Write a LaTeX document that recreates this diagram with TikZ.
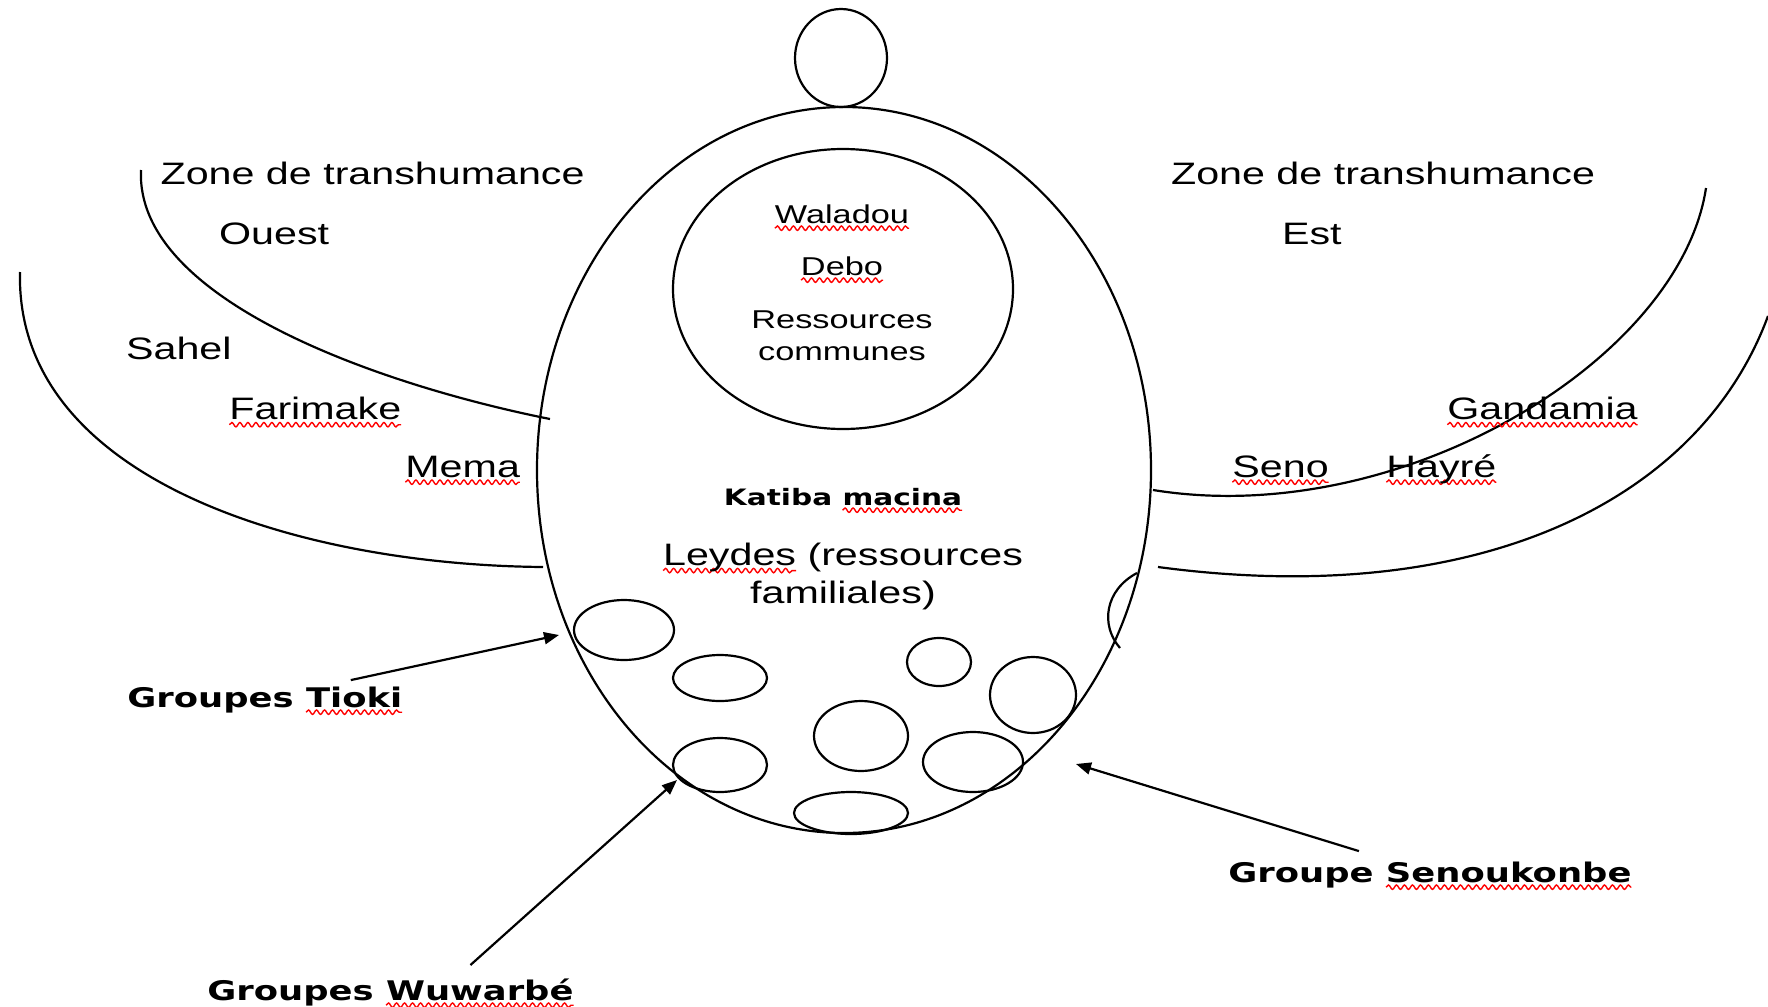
\documentclass[tikz,border=0pt]{standalone}
\usepackage{fontspec}
\setmainfont{Liberation Sans}[FakeStretch=1.33]
\newfontfamily\grpfont{DejaVu Sans}[FakeStretch=1.31]
\usetikzlibrary{arrows.meta,calc,decorations.pathmorphing}

% red spell-check wave under a word
\newsavebox\sqbox
\newlength\sqlen
\newcommand\sqw[1]{\sbox\sqbox{#1}\setlength\sqlen{\wd\sqbox}\leavevmode\rlap{\tikz[reset cm,x=1pt,y=1pt,baseline=0pt]{\useasboundingbox (0,0); \draw[overlay,red,line width=0.7pt,decorate,decoration={snake,amplitude=1.1pt,segment length=4pt}] (0pt,-2.6pt) -- (\sqlen,-2.6pt);}}\usebox\sqbox}

\tikzset{every picture/.style={line width=1.1pt}}
\tikzset{
  txt/.style={anchor=base west, inner sep=0.75pt, font=\fontsize{15.5}{17.5}\selectfont},
  inner/.style={inner sep=0.75pt, font=\fontsize{12.9}{16}\selectfont, align=center},
  grp/.style={anchor=base west, inner sep=3pt, font=\grpfont\bfseries\fontsize{13.5}{16}\selectfont},
  arr/.style={-{Triangle[length=7.5pt,width=6pt]}}
}

\begin{document}
\begin{tikzpicture}[x=0.5pt,y=0.5pt,yscale=-1,xscale=1]
\useasboundingbox (0,0) rectangle (1768,1007);

%Shape: Ellipse [head]
\draw (841,58) ellipse [x radius=46, y radius=49];
%Shape: Ellipse [body]
\draw (844,470) ellipse [x radius=307, y radius=363];
%Shape: Ellipse [ressources communes]
\draw (843,289) ellipse [x radius=170, y radius=140];

%Shape: Ellipse [familles]
\draw (624,630) ellipse [x radius=50, y radius=30];
\draw (720,678) ellipse [x radius=47, y radius=23];
\draw (720,765) ellipse [x radius=47, y radius=27];
\draw (851,813) ellipse [x radius=57, y radius=21];
\draw (861,736) ellipse [x radius=47, y radius=35];
\draw (939,662) ellipse [x radius=32, y radius=24];
\draw (1033,695) ellipse [x radius=43, y radius=38];
\draw (973,762) ellipse [x radius=50, y radius=30];

%Curve Lines [zone ouest]
\draw (141,170) .. controls (135,300) and (380,385) .. (550,419);
\draw (20,272) .. controls (15,480) and (300,565) .. (543,567);
%Curve Lines [zone est]
\draw (1706,188) .. controls (1680,360) and (1400,530) .. (1153,490);
\draw (1768,316) .. controls (1700,500) and (1480,610) .. (1158,567);
%Curve Lines [small arc]
\draw (1137,573) .. controls (1105,590) and (1100,625) .. (1120,648);

% Text Node
\draw (158,184.8) node [txt] (zoneW) {Zone de transhumance};
% Text Node
\draw (216.5,244) node [txt] (ouest) {Ouest};
% Text Node
\draw (123.5,359) node [txt] (sahel) {Sahel};
% Text Node
\draw (227.5,419.5) node [txt] (farimake) {\sqw{Farimake}};
% Text Node
\draw (403.5,477) node [txt] (mema) {\sqw{Mema}};
% Text Node
\draw (1168.5,184.8) node [txt] (zoneE) {Zone de transhumance};
% Text Node
\draw (1279.5,244) node [txt] (est) {Est};
% Text Node
\draw (1445.5,419.5) node [txt] (gandamia) {\sqw{Gandamia}};
% Text Node
\draw (1230.5,477) node [txt] (seno) {\sqw{Seno}};
% Text Node
\draw (1384.5,477) node [txt] (hayre) {\sqw{Hayré}};

% Text Node
\draw (842,223) node [inner, anchor=base] (waladou) {\sqw{Waladou}};
% Text Node
\draw (842,275) node [inner, anchor=base] (debo) {\sqw{Debo}};
% Text Node
\draw (842,308) node [inner, anchor=north] (communes) {Ressources\\communes};

% Text Node
\draw (843,505) node [anchor=base, inner sep=0.75pt, font=\grpfont\bfseries\fontsize{11.3}{13}\selectfont] (katiba) {Katiba \sqw{macina}};
% Text Node
\draw (843,541) node [anchor=north, inner sep=0.75pt, font=\fontsize{15.5}{19.2}\selectfont, align=center] (leydes) {\sqw{Leydes} (ressources\\familiales)};

% Text Node
\draw (121,707) node [grp] (tioki) {Groupes \sqw{Tioki}};
% Text Node
\draw (201,1000) node [grp] (wuwarbe) {Groupes \sqw{Wuwarbé}};
% Text Node
\draw (1222,882) node [grp] (senou) {Groupe \sqw{Senoukonbe}};

\coordinate (tipT) at (559,635);
\coordinate (tipW) at (677,780);
\coordinate (tipS) at (1076,764);

%Straight Lines
\draw [arr] ($(tioki.north)+(86,0)$) -- (tipT);
%Straight Lines
\draw [arr] ($(wuwarbe.north)+(80,-7)$) -- (tipW);
%Straight Lines
\draw [arr] ($(senou.north)+(-71,-4)$) -- (tipS);

\end{tikzpicture}
\end{document}
